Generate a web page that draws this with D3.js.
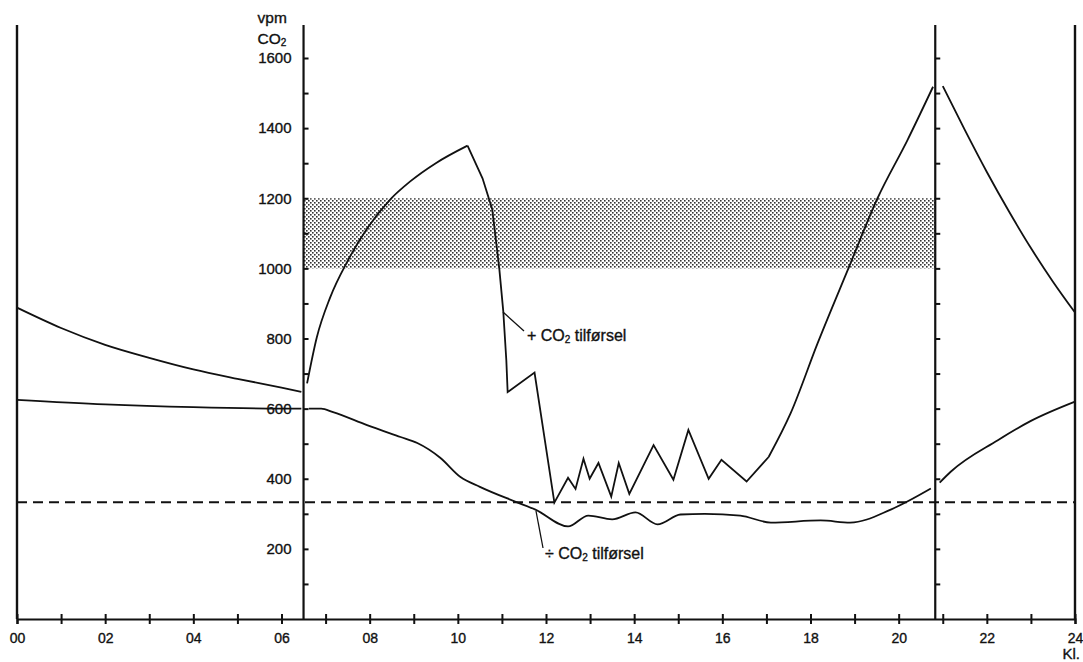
<!DOCTYPE html>
<html>
<head>
<meta charset="utf-8">
<script src="https://cdn.jsdelivr.net/npm/d3@7"></script>
<style>
    body { margin: 0; background: #fff; }
    #chart-area text { font-family: "Liberation Sans", Arial, sans-serif; fill: #111; stroke: #111; stroke-width: 0.35px; }
</style>
</head>
<body>
<div id="chart-area"></div>
<script>

// Hours of day (Kl.) and CO2 readings (vpm)

// night before, greenhouse closed
var upperEarlyHours = [0, 1, 2, 3, 4, 5, 6, 6.45];
var upperEarlyVpm   = [888, 830, 782, 745, 712, 685, 660, 648];
var lowerEarlyHours = [0, 2, 4, 6, 6.45];
var lowerEarlyVpm   = [625, 612, 604, 600, 600];

// + CO2 tilforsel, morning rise
var upperRiseHours = [6.58, 6.8, 7.1, 7.5, 7.95, 8.47, 8.92, 9.5, 10.22];
var upperRiseVpm   = [672, 803, 916, 1021, 1115, 1197, 1248, 1300, 1350];

// + CO2 tilforsel, venting drop and zigzag
var upperDayHours = [10.22, 10.56, 10.78, 10.94, 11.03, 11.1, 11.13, 11.74, 12.19, 12.5, 12.67, 12.85,
    12.99, 13.19, 13.48, 13.65, 13.89, 14.44, 14.89, 15.23, 15.69, 15.98, 16.55, 17.05];
var upperDayVpm = [1350, 1257, 1169, 1000, 879, 738, 647, 703, 332, 403, 371, 457,
    400, 445, 349, 445, 357, 496, 397, 539, 400, 454, 392, 462];

// + CO2 tilforsel, evening rise
var upperEveHours = [17.05, 17.55, 18.16, 18.86, 19.52, 20.2, 20.78];
var upperEveVpm   = [462, 587, 786, 1000, 1200, 1366, 1518];

// ÷ CO2 tilforsel
var lowerDayHours = [6.62, 6.9, 7.17, 7.94, 8.7, 9.08, 9.6, 10.06, 10.5, 11.3, 11.76, 12.5, 12.96,
    13.5, 14.03, 14.53, 15.05, 15.6, 16.41, 17.1, 18.23, 18.9, 19.82, 20.73];
var lowerDayVpm = [600, 600, 590, 553, 519, 502, 460, 405, 377, 335, 312, 264, 295,
    284, 304, 270, 298, 300, 295, 275, 281, 275, 312, 372];

// night after
var upperLateHours = [21.0, 21.5, 22.0, 22.5, 23.0, 23.5, 24];
var upperLateVpm   = [1520, 1395, 1275, 1163, 1058, 962, 874];
var lowerLateHours = [20.93, 21.18, 22.25, 23, 24];
var lowerLateVpm   = [389, 420, 510, 565, 620];

// outside air level (dashed) and the optimum band (shaded)
var outsideVpm = 333;
var bandVpm = [1000, 1200];

// day period (vertical axes) in hours
var dayStart = 6.5;
var dayEnd = 20.83;

// axis ticks
var hourTicks = d3.range(0, 25);
var hourLabels = ["00", "02", "04", "06", "08", "10", "12", "14", "16", "18", "20", "22", "24"];
var vpmTicks = d3.range(100, 1700, 100);
var vpmLabels = [200, 400, 600, 800, 1000, 1200, 1400, 1600];


CO2Chart = function(_parentElement){
    this.parentElement = _parentElement;
    this.initVis();
}

CO2Chart.prototype.initVis = function(){
    var vis = this;

    vis.margin = { top: 25, right: 8, bottom: 43, left: 17 };
    vis.fullWidth = 1083;
    vis.fullHeight = 662;
    vis.bottom = vis.fullHeight - vis.margin.bottom;   // x axis line

    vis.svg = d3.select("#" + vis.parentElement).append("svg")
        .attr("width", vis.fullWidth)
        .attr("height", vis.fullHeight);

    vis.x = d3.scaleLinear().domain([0, 24]).range([vis.margin.left, vis.fullWidth - vis.margin.right]);
    vis.y = d3.scaleLinear().domain([0, 1600]).range([vis.bottom, 58]);

    // stipple pattern for the 1000-1200 band
    var pat = vis.svg.append("defs").append("pattern")
        .attr("id", "stipple")
        .attr("patternUnits", "userSpaceOnUse")
        .attr("width", 4).attr("height", 4);
    pat.append("rect").attr("width", 4).attr("height", 4).attr("fill", "#fff");
    pat.append("rect").attr("x", 0).attr("y", 0).attr("width", 1.6).attr("height", 1.6).attr("fill", "#333");
    pat.append("rect").attr("x", 2).attr("y", 2).attr("width", 1.6).attr("height", 1.6).attr("fill", "#333");

    vis.wrangleData();
};

CO2Chart.prototype.wrangleData = function(){
    var vis = this;

    function zipSeries(hours, vpm){
        return hours.map(function(h, i){ return { hour: h, vpm: vpm[i] }; });
    }

    vis.smoothSeries = [
        zipSeries(upperEarlyHours, upperEarlyVpm),
        zipSeries(lowerEarlyHours, lowerEarlyVpm),
        zipSeries(upperRiseHours, upperRiseVpm),
        zipSeries(upperEveHours, upperEveVpm),
        zipSeries(lowerDayHours, lowerDayVpm),
        zipSeries(upperLateHours, upperLateVpm),
        zipSeries(lowerLateHours, lowerLateVpm)
    ];
    vis.sharpSeries = [ zipSeries(upperDayHours, upperDayVpm) ];

    vis.updateVis();
};

CO2Chart.prototype.updateVis = function(){
    var vis = this;
    var x = vis.x, y = vis.y;
    var top = vis.margin.top;

    // shaded band
    vis.svg.append("rect")
        .attr("x", x(dayStart))
        .attr("y", y(bandVpm[1]))
        .attr("width", x(dayEnd) - x(dayStart))
        .attr("height", y(bandVpm[0]) - y(bandVpm[1]))
        .attr("fill", "url(#stipple)");

    // dashed outside level
    vis.svg.append("line")
        .attr("x1", x(0)).attr("x2", x(24))
        .attr("y1", y(outsideVpm)).attr("y2", y(outsideVpm))
        .attr("stroke", "#111").attr("stroke-width", 1.8)
        .attr("stroke-dasharray", "10,6");

    // curves
    var smoothLine = d3.line()
        .x(function(d){ return x(d.hour); })
        .y(function(d){ return y(d.vpm); })
        .curve(d3.curveMonotoneX);
    var sharpLine = d3.line()
        .x(function(d){ return x(d.hour); })
        .y(function(d){ return y(d.vpm); });

    vis.svg.selectAll(".smooth")
        .data(vis.smoothSeries)
        .enter().append("path")
        .attr("class", "smooth")
        .attr("d", smoothLine)
        .attr("fill", "none").attr("stroke", "#111").attr("stroke-width", 1.8);

    vis.svg.selectAll(".sharp")
        .data(vis.sharpSeries)
        .enter().append("path")
        .attr("class", "sharp")
        .attr("d", sharpLine)
        .attr("fill", "none").attr("stroke", "#111").attr("stroke-width", 1.8)
        .attr("stroke-linejoin", "miter");

    // x axis with cross ticks
    var xAxis = d3.axisBottom(x)
        .tickValues(hourTicks)
        .tickSize(5)
        .tickPadding(9)
        .tickFormat(function(d){ return d % 2 === 0 ? hourLabels[d / 2] : ""; });
    var gx = vis.svg.append("g")
        .attr("transform", "translate(0," + vis.bottom + ")")
        .call(xAxis);
    gx.select(".domain").attr("stroke", "#111").attr("stroke-width", 2.2);
    gx.selectAll(".tick line").attr("y1", -5).attr("stroke", "#111").attr("stroke-width", 2);
    gx.selectAll(".tick text").style("font-size", "14px");

    // border lines at 00 and 24
    [0, 24].forEach(function(h){
        vis.svg.append("line")
            .attr("x1", x(h)).attr("x2", x(h))
            .attr("y1", top).attr("y2", vis.bottom)
            .attr("stroke", "#111").attr("stroke-width", 2.4);
    });

    // vertical vpm axes at sunrise and sunset
    [dayStart, dayEnd].forEach(function(h, i){
        var yAxis = d3.axisLeft(y)
            .tickValues(vpmTicks)
            .tickSize(5)
            .tickPadding(7)
            .tickFormat(function(d){ return (i === 0 && vpmLabels.indexOf(d) >= 0) ? d : ""; });
        var gy = vis.svg.append("g")
            .attr("transform", "translate(" + x(h) + ",0)")
            .call(yAxis);
        gy.select(".domain").remove();
        gy.selectAll(".tick line").attr("x2", 5).attr("stroke", "#111").attr("stroke-width", 2);
        gy.selectAll(".tick text").style("font-size", "15px");
        gy.append("line")
            .attr("x1", 0).attr("x2", 0)
            .attr("y1", top).attr("y2", vis.bottom)
            .attr("stroke", "#111").attr("stroke-width", 2.2);
    });

    // axis titles
    var ax = x(dayStart) - 46;
    vis.svg.append("text").attr("x", ax).attr("y", 23).style("font-size", "15.5px").text("vpm");
    var co2 = vis.svg.append("text").attr("x", ax).attr("y", 44).style("font-size", "15.5px");
    co2.append("tspan").text("CO");
    co2.append("tspan").attr("dy", 2).style("font-size", "10px").text("2");
    vis.svg.append("text")
        .attr("x", x(24) + 5).attr("y", 659)
        .attr("text-anchor", "end")
        .style("font-size", "15px")
        .text("Kl.");

    // curve labels with leader lines
    function labelCO2(xPos, yPos, sign){
        var t = vis.svg.append("text").attr("x", xPos).attr("y", yPos).style("font-size", "16px");
        t.append("tspan").text(sign + " CO");
        t.append("tspan").attr("dy", 2).style("font-size", "10px").text("2");
        t.append("tspan").attr("dy", -2).text(" tilførsel");
    }
    vis.svg.append("line")
        .attr("x1", 503).attr("y1", 312).attr("x2", 524).attr("y2", 331)
        .attr("stroke", "#111").attr("stroke-width", 1.3);
    labelCO2(527, 341, "+");

    vis.svg.append("line")
        .attr("x1", 536).attr("y1", 511).attr("x2", 543).attr("y2", 548)
        .attr("stroke", "#111").attr("stroke-width", 1.3);
    labelCO2(545, 559, "÷");
};

var chart = new CO2Chart("chart-area");

</script>
</body>
</html>
